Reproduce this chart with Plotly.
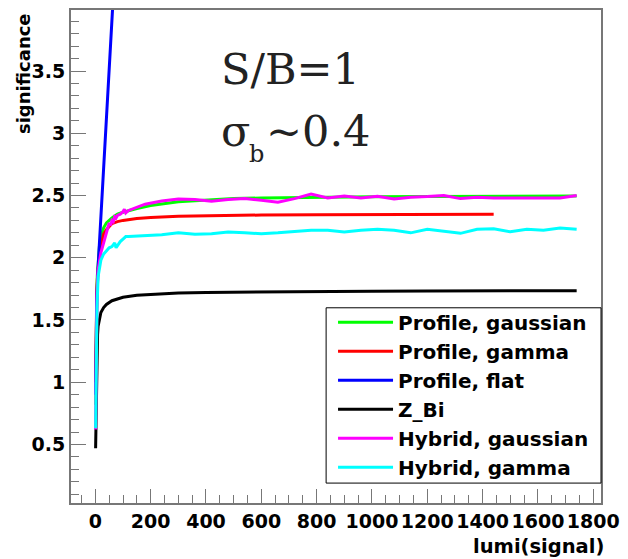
import plotly.graph_objects as go

# ---------------- data ----------------
x_prof_gauss = [1, 2, 3, 5, 7, 10, 15, 20, 30, 40, 60, 80, 100, 150, 200, 300, 400,
                500, 600, 800, 1000, 1200, 1500, 1740]
y_prof_gauss = [0.82, 1.2, 1.45, 1.7, 1.85, 1.98, 2.1, 2.17, 2.24, 2.28, 2.32, 2.35,
                2.365, 2.395, 2.42, 2.45, 2.465, 2.475, 2.48, 2.486, 2.489, 2.491,
                2.494, 2.496]

x_prof_gamma = [1, 2, 3, 5, 7, 10, 15, 20, 30, 40, 60, 80, 100, 150, 200, 300, 400,
                600, 800, 1000, 1200, 1440]
y_prof_gamma = [1.0, 1.3, 1.5, 1.7, 1.82, 1.93, 2.03, 2.1, 2.19, 2.225, 2.275, 2.29,
                2.30, 2.315, 2.323, 2.333, 2.338, 2.343, 2.346, 2.348, 2.349, 2.35]

x_prof_flat = [1, 3, 5, 10, 20, 30, 40, 50, 60, 70, 80]
y_prof_flat = [0.9, 1.45, 1.65, 1.93, 2.33, 2.72, 3.12, 3.51, 3.9, 4.3, 4.7]

x_zbi = [1, 2, 3, 4, 6, 8, 10, 15, 20, 30, 40, 60, 80, 100, 150, 200, 300, 400, 600,
         800, 1000, 1200, 1500, 1740]
y_zbi = [0.47, 0.61, 0.85, 1.02, 1.25, 1.38, 1.45, 1.52, 1.56, 1.60, 1.625, 1.655,
         1.672, 1.683, 1.698, 1.706, 1.716, 1.721, 1.726, 1.729, 1.731, 1.733, 1.734,
         1.735]

x_hyb_gauss = [1, 2, 4, 6, 10, 15, 20, 30, 40, 45, 50, 55, 60, 65, 70, 75, 80, 90, 100,
               105, 110, 120, 180, 240, 300, 360, 420, 480, 540, 600, 660, 720, 780,
               840, 900, 960, 1020, 1080, 1140, 1200, 1260, 1320, 1380, 1440, 1500,
               1560, 1620, 1680, 1740]
y_hyb_gauss = [0.62, 1.1, 1.5, 1.7, 1.9, 1.98, 2.04, 2.12, 2.2, 2.24, 2.28, 2.26, 2.3,
               2.29, 2.33, 2.32, 2.34, 2.35, 2.37, 2.39, 2.36, 2.38, 2.43, 2.455,
               2.472, 2.467, 2.454, 2.467, 2.475, 2.462, 2.446, 2.475, 2.512, 2.48,
               2.496, 2.48, 2.494, 2.472, 2.486, 2.491, 2.5, 2.475, 2.486, 2.48, 2.48,
               2.48, 2.475, 2.48, 2.5]

x_hyb_gamma = [1, 2, 4, 6, 10, 15, 20, 30, 40, 50, 60, 70, 75, 80, 90, 100, 110, 120,
               180, 240, 300, 360, 420, 480, 540, 600, 660, 720, 780, 840, 900, 960,
               1020, 1080, 1140, 1200, 1260, 1320, 1380, 1440, 1500, 1560, 1620, 1680,
               1740]
y_hyb_gamma = [0.63, 1.0, 1.4, 1.6, 1.85, 1.93, 1.98, 2.03, 2.06, 2.08, 2.09, 2.12,
               2.08, 2.1, 2.13, 2.15, 2.17, 2.17, 2.175, 2.185, 2.2, 2.188, 2.193,
               2.206, 2.2, 2.193, 2.2, 2.208, 2.22, 2.22, 2.206, 2.22, 2.228, 2.22,
               2.2, 2.228, 2.214, 2.196, 2.228, 2.232, 2.208, 2.228, 2.22, 2.238, 2.228]

series_names = ["Profile, gaussian", "Profile, gamma", "Profile, flat", "Z_Bi",
                "Hybrid, gaussian", "Hybrid, gamma"]
series_x = [x_prof_gauss, x_prof_gamma, x_prof_flat, x_zbi, x_hyb_gauss, x_hyb_gamma]
series_y = [y_prof_gauss, y_prof_gamma, y_prof_flat, y_zbi, y_hyb_gauss, y_hyb_gamma]
series_colors = ["#00ff00", "#ff0000", "#0000ff", "#000000", "#ff00ff", "#00ffff"]

x_range = [-88, 1828]
y_range = [0.03, 3.99]
x_title = "lumi(signal)"
y_title = "significance"

# ---------------- figure ----------------
W, H = 628, 559
ml, mr, mt, mb = 71, 21, 8, 56
pw, ph = W - ml - mr, H - mt - mb


def px_x(p):
    return (p - ml) / pw


def px_y(p):
    return (H - mb - p) / ph


fig = go.Figure()
for name, xs, ys, col in zip(series_names, series_x, series_y, series_colors):
    fig.add_trace(go.Scatter(x=xs, y=ys, mode="lines", name=name,
                             line=dict(color=col, width=3)))

sans = "DejaVu Sans"
axis_col = "#777777"
tick_font = dict(family=sans, size=19, color="black", weight="bold")

fig.update_xaxes(range=x_range, dtick=200, tick0=0, ticks="inside", ticklen=14,
                 tickwidth=1, tickcolor=axis_col, showline=True, linecolor=axis_col,
                 linewidth=2, mirror=True, showgrid=False, zeroline=False,
                 tickfont=tick_font,
                 minor=dict(dtick=50, tick0=0, ticks="inside", ticklen=8,
                            tickcolor=axis_col, tickwidth=1, showgrid=False))
fig.update_yaxes(range=y_range, dtick=0.5, tick0=0, ticks="inside", ticklen=15,
                 tickwidth=1, tickcolor=axis_col, showline=True, linecolor=axis_col,
                 linewidth=2, mirror=True, showgrid=False, zeroline=False,
                 tickfont=tick_font, ticklabelstandoff=0,
                 minor=dict(dtick=0.1, tick0=0, ticks="inside", ticklen=8,
                            tickcolor=axis_col, tickwidth=1, showgrid=False))

serif = "DejaVu Serif"
txt_col = "#222222"
annots = [
    dict(text="S/B=1", x=px_x(221), y=px_y(67), xanchor="left", yanchor="middle",
         font=dict(family=serif, size=43, color=txt_col)),
    dict(text="σ", x=px_x(221), y=px_y(129), xanchor="left", yanchor="middle",
         font=dict(family=serif, size=43, color=txt_col)),
    dict(text="b", x=px_x(249), y=px_y(153), xanchor="left", yanchor="middle",
         font=dict(family=serif, size=24, color=txt_col)),
    dict(text="~0.4", x=px_x(266), y=px_y(129), xanchor="left", yanchor="middle",
         font=dict(family=serif, size=43, color=txt_col)),
    dict(text=y_title, x=px_x(23), y=px_y(9), xanchor="center", yanchor="top",
         textangle=-90,
         font=dict(family=sans, size=18, color="black", weight="bold")),
    dict(text=x_title, x=px_x(612), y=px_y(547), xanchor="right", yanchor="middle",
         font=dict(family=sans, size=19.5, color="black", weight="bold")),
]
for a in annots:
    a.update(xref="paper", yref="paper", showarrow=False)

# legend box (white with black border), legend drawn on top of it
fig.add_shape(type="rect", xref="paper", yref="paper",
              x0=px_x(329), x1=px_x(607), y0=px_y(483), y1=px_y(307),
              fillcolor="white", line=dict(color="black", width=1), layer="above")

fig.update_layout(
    width=W, height=H, margin=dict(l=ml, r=mr, t=mt, b=mb, pad=0),
    paper_bgcolor="white", plot_bgcolor="white",
    annotations=annots,
    showlegend=True,
    legend=dict(x=px_x(336), y=px_y(302), xanchor="left", yanchor="top",
                bgcolor="rgba(0,0,0,0)", borderwidth=0, itemwidth=55,
                font=dict(family=sans, size=20, color="black", weight="bold"),
                tracegroupgap=0),
)

fig.write_html("out.html")
